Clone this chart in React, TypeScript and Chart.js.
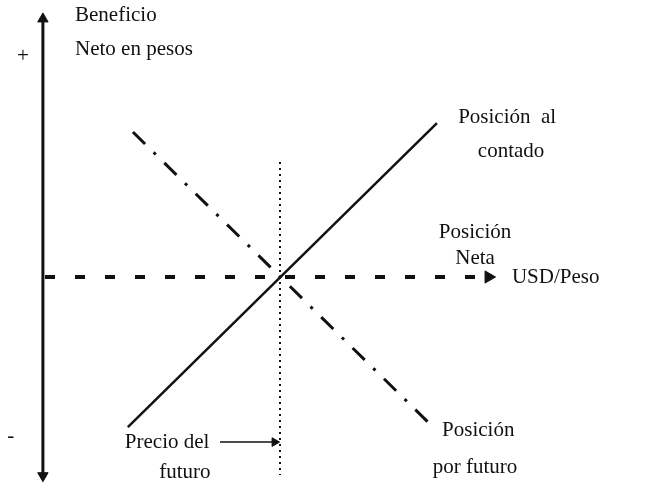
import React, { useEffect, useRef } from "react";
import { Chart, registerables } from "chart.js";

Chart.register(...registerables);

// Abstract units: x = USD/Peso rate axis, y = net profit in pesos
const xRange = [-1.43, 20.53];
const yRange = [-7.03, 9.23];

const spotX = [2.83, 13.13];
const spotY = [-5.0, 5.13];

const futureX = [3.0, 12.9];
const futureY = [4.83, -4.9];

const netX = [0.07, 14.85];
const netY = [0, 0];

const futuresPrice = 7.9;
const futuresPriceY = [3.83, -6.6];

const profitAxisY = [8.6, -6.62];

const pointerX = [5.9, 7.72];
const pointerY = [-5.5, -5.5];

type Label = { text: string; x: number; y: number; align: CanvasTextAlign };
const labels: Label[] = [
  { text: "Beneficio", x: 1.07, y: 8.73, align: "left" },
  { text: "Neto en pesos", x: 1.07, y: 7.57, align: "left" },
  { text: "+", x: -0.67, y: 7.35, align: "center" },
  { text: "-", x: -1.07, y: -5.3, align: "center" },
  { text: "Posición  al", x: 15.47, y: 5.3, align: "center" },
  { text: "contado", x: 15.6, y: 4.17, align: "center" },
  { text: "Posición", x: 14.4, y: 1.5, align: "center" },
  { text: "Neta", x: 14.4, y: 0.63, align: "center" },
  { text: "USD/Peso", x: 15.63, y: 0, align: "left" },
  { text: "Precio del", x: 2.73, y: -5.5, align: "left" },
  { text: "futuro", x: 4.73, y: -6.5, align: "center" },
  { text: "Posición", x: 13.3, y: -5.1, align: "left" },
  { text: "por futuro", x: 14.4, y: -6.35, align: "center" },
];

const textPlugin = {
  id: "textLabels",
  afterDraw(chart: any) {
    const { ctx } = chart;
    const xs = chart.scales.x;
    const ys = chart.scales.y;
    ctx.save();
    ctx.fillStyle = "#111";
    ctx.font = '21px "Liberation Serif", "Times New Roman", serif';
    ctx.textBaseline = "middle";
    for (const l of labels) {
      ctx.textAlign = l.align;
      ctx.fillText(l.text, xs.getPixelForValue(l.x), ys.getPixelForValue(l.y));
    }
    ctx.restore();
  },
};

const pts = (xs: number[], ys: number[]) => xs.map((x, i) => ({ x, y: ys[i] }));

export default function App() {
  const ref = useRef<HTMLCanvasElement | null>(null);
  useEffect(() => {
    document.body.style.margin = "0";
    const canvas = ref.current!;
    const chart = new Chart(canvas, {
      type: "scatter",
      data: {
        datasets: [
          {
            data: pts([0, 0], profitAxisY),
            showLine: true,
            borderColor: "#111",
            backgroundColor: "#111",
            borderWidth: 3,
            pointStyle: "triangle",
            pointRadius: 6,
            pointRotation: [0, 180],
            pointBorderWidth: 1,
          } as any,
          {
            data: pts(netX, netY),
            showLine: true,
            borderColor: "#111",
            backgroundColor: "#111",
            borderWidth: 4,
            borderDash: [10, 20],
            pointStyle: "triangle",
            pointRadius: [0, 7],
            pointRotation: 90,
            pointBorderWidth: 1,
          } as any,
          {
            data: pts(spotX, spotY),
            showLine: true,
            borderColor: "#111",
            borderWidth: 2.5,
            pointRadius: 0,
          },
          {
            data: pts(futureX, futureY),
            showLine: true,
            borderColor: "#111",
            borderWidth: 3,
            borderDash: [17, 12, 3, 12],
            pointRadius: 0,
          },
          {
            data: pts([futuresPrice, futuresPrice], futuresPriceY),
            showLine: true,
            borderColor: "#111",
            borderWidth: 2,
            borderDash: [2, 4],
            pointRadius: 0,
          },
          {
            data: pts(pointerX, pointerY),
            showLine: true,
            borderColor: "#111",
            backgroundColor: "#111",
            borderWidth: 1.5,
            pointStyle: "triangle",
            pointRadius: [0, 5],
            pointRotation: 90,
            pointBorderWidth: 1,
          } as any,
        ],
      },
      options: {
        animation: false,
        responsive: false,
        maintainAspectRatio: false,
        layout: { padding: 0, autoPadding: false },
        plugins: { legend: { display: false }, tooltip: { enabled: false } },
        scales: {
          x: { type: "linear", display: false, min: xRange[0], max: xRange[1] },
          y: { type: "linear", display: false, min: yRange[0], max: yRange[1] },
        },
        events: [],
      },
      plugins: [textPlugin],
    });
    return () => chart.destroy();
  }, []);
  return (
    <div style={{ width: 659, height: 488, background: "#fff" }}>
      <canvas ref={ref} width={659} height={488} style={{ display: "block" }} />
    </div>
  );
}
